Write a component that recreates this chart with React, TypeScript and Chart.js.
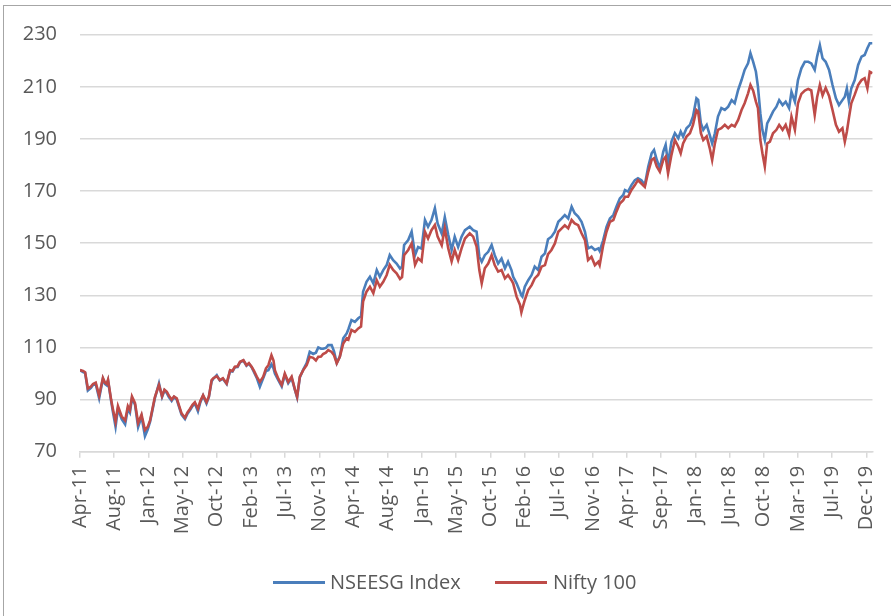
import React, { useEffect, useRef } from "react";
import { Chart, registerables } from "chart.js";

Chart.register(...registerables);

// X tick labels, one every 100 trading days starting Apr-11
const tickLabels = ["Apr-11","Aug-11","Jan-12","May-12","Oct-12","Feb-13","Jul-13","Nov-13","Apr-14","Aug-14","Jan-15","May-15","Oct-15","Feb-16","Jul-16","Nov-16","Apr-17","Sep-17","Jan-18","Jun-18","Oct-18","Mar-19","Jul-19","Dec-19"];

// trading-day index of each sampled reading
const tradingDay = [0,9,15,23,32,38,46,56,61,67,73,78,82,91,96,104,111,122,132,140,146,152,161,170,180,190,198,205,212,219,231,240,247,254,260,268,275,283,289,297,307,314,322,329,336,345,352,360,370,377,385,
390,400,409,418,429,439,446,453,461,468,478,487,494,502,509,517,526,536,544,551,560,566,570,580,590,599,609,619,629,635,643,653,663,672,682,690,697,705,711,719,726,736,743,751,760,770,780,
785,794,804,814,822,828,838,848,858,868,877,887,897,906,916,926,936,942,948,960,970,975,980,989,999,1009,1018,1028,1038,1046,1058,1067,1077,1087,1096,1106,1116,1126,1140,1150,
1160,1168,1175,1184,1194,1204,1213,1223,1233,1243,1252,1262,1267,1277,1287,1291,1294,1301,1311,1321,1330,1340,1350,1360,1369,1379,1389,1399,1409,1418,1428,1438,1447,1457,1467,1477,1486,1496,1506,1516,
1520,1530,1540,1550,1560,1569,1579,1589,1594,1603,1613,1623,1632,1642,1652,1662,1672,1679,1687,1696,1706,1713,1720,1730,1740,1750,1757,1764,1774,1784,1793,1803,1808,1816,1823,1833,1842,1849,1857,1866,1876,1886,1896,1906,1915,
1925,1935,1944,1954,1961,1969,1977,1983,1990,1996,2003,2010,2018,2027,2037,2045,2055,2064,2074,2081,2091,2100,2110,2120,2130,2139,2149,2156,2164,2172,2181,2191,2201,2211,2220,2230,2237,2243,2249,2256,2266,2276,2286,2295,2303,2310,2318];

const nseesgIndex = [101.3,100.5,100.2,93.5,94.5,95.6,96,90.5,94,98,96,95.5,97.3,89.5,85.5,79.6,86.5,82.5,80.5,86.5,85,90.5,88,79.5,83.5,76,78.5,81.5,86,90.5,96.2,91,93.5,92.5,91,89.5,91,90,87.5,84.2,82.5,84.5,86,87.5,88.5,85.5,89,91.5,88.5,91,97,
98,99.4,97.3,98,96,101,100.8,102.4,102.5,104.3,105,103,103.8,102.4,100.5,98.3,94.9,98.3,101,101.3,103.5,102,100,97.5,95,99.5,96.3,98.3,93.5,90.8,98.5,101.5,104,108.3,107.5,108,110,109.5,109.5,109.8,110.9,110.9,108.5,104,106.5,113.5,115.4,
117,120.5,119.8,121.2,122,131.4,135.2,137.1,134.6,139.7,137.1,139.7,141.6,145.5,143.5,142.2,140.3,141,149.3,151.2,154.4,150,145.4,148.5,147.9,158.9,156.3,158.9,163.4,157.6,153.7,160,153.2,147.4,152.5,148.6,152.5,155,156.3,155,
154.4,144.8,142.9,145.4,146.7,149.3,145.4,142.2,144.1,140.4,142.9,139.7,137.1,134.6,131.4,130,129.5,133.3,135.8,137.8,141,139.7,144.8,146.1,151.5,152.5,154.4,158.2,159.5,160.8,159.5,164,161.5,160.2,158.2,154.4,148,148.6,147.4,148,
147,151,156.3,159.5,160.8,164,167.2,168.5,170.4,169.8,172.3,174.2,174.9,174.2,172.3,179.3,184.5,185.8,182,178.7,185.1,187.7,180.6,189,192.2,190.3,192.8,190.9,194.1,195.4,198.6,205.6,205,196,193.5,195.4,191.5,188.3,192.2,198.6,201.8,201.1,202.4,204.9,203.7,
208.8,212.6,216.5,219,222.9,219.6,215.8,210,199.8,193.4,189.6,196,198,200.5,202.4,204.9,203,204.3,201.8,208.1,204.3,212.6,217.1,219.6,219.6,219,216.5,221.6,226,220.9,219.6,216.5,210.7,205.6,203,204.9,206.2,209.4,204.3,209.4,212.6,218.4,221.6,222.2,224.8,226.7,226.7];

const nifty100 = [101.3,101,100.5,94.2,95,96,96.5,91.5,94.5,98.3,96.5,96,97.6,90,86.5,81.5,87.5,83.5,82,87.5,86,91.2,88.6,81,84.2,78.3,79.5,82,86.5,91,95.6,91.3,93.8,93,91.5,90,91.2,90.5,88,84.7,83,85,86.5,88,89,86.5,89.5,91.7,89,91.2,97.5,
98.2,99,97.5,98.2,96.2,101.3,101,102.6,102.8,104.5,105.1,103.2,104,102.6,101,98.8,96.8,98.8,102,103.2,107,105,101.3,98,95.6,100,96.8,98.8,93.7,91.1,98.8,101.3,103.2,106.4,106,105,106.4,106.5,107.5,108,109,108.3,107,103.9,106.4,111.5,113.5,
113,116.7,116,117.3,118,127.6,131.4,133.3,130.8,135.8,133.3,135.2,137.8,141.7,139.7,138.4,136.3,137,145.4,147.4,149.9,146,141.7,144.2,143,154.4,151.8,155,157,152.5,149.2,155.7,148.1,143,147.4,143.5,148,151.8,153.8,152.5,
148.7,139.7,134.6,140.4,142.2,145.4,141.6,139.1,139.7,136.5,137.8,135.8,134.6,129.5,126.3,123.5,125,128.2,132,133.9,136.5,137.8,141,141.6,145.8,147.4,149.9,154.4,155.7,156.9,155.7,158.9,157.6,156.9,153.8,151.2,143.5,144.8,141.6,142.9,
141.6,149,154.4,158.2,158.9,162.1,165.2,166.5,167.8,167.8,170.4,172.3,174.2,172.9,171.6,177.4,182,182.6,179.4,177.4,182,183.2,176.8,183.9,189.6,187,184.5,188.3,190.9,192.2,195.4,201.1,200.5,192.2,189.6,191,186.4,181.9,188.3,193.5,194.1,195.4,194.1,195.4,194.8,
197.3,201.1,203.7,207.5,210.7,208.5,204.3,201.8,189.6,184.5,179.4,188.3,189,192.2,193.5,195.4,193.5,195.4,191.5,198.6,193.5,203.7,207.3,208.6,209.2,208.6,199.2,206,210.7,206.7,209.6,206.5,201.1,195.4,192.8,194.1,189,192.8,198,203.7,207,210.7,212.6,213.3,209.4,215.8,215.2];

const seriesNames = ["NSEESG Index", "Nifty 100"];
const seriesColors = ["#4A7EBB", "#BE4B48"];

const FONT = "'Open Sans', 'Liberation Sans', sans-serif";
const TEXT = "#595959";

export default function App() {
  const ref = useRef<HTMLCanvasElement | null>(null);

  useEffect(() => {
    if (!ref.current) return;
    const toPts = (vals: number[]) => vals.map((v, i) => ({ x: tradingDay[i], y: v }));
    const chart = new Chart(ref.current, {
      type: "line",
      data: {
        datasets: [
          { label: seriesNames[0], data: toPts(nseesgIndex), borderColor: seriesColors[0], backgroundColor: seriesColors[0], borderWidth: 2.6, pointRadius: 0, tension: 0, order: 2 },
          { label: seriesNames[1], data: toPts(nifty100), borderColor: seriesColors[1], backgroundColor: seriesColors[1], borderWidth: 2.6, pointRadius: 0, tension: 0, order: 1 },
        ],
      },
      options: {
        responsive: false,
        animation: false,
        layout: { padding: { left: 0, right: 18.5, top: 34.7, bottom: 64.3 } },
        plugins: { legend: { display: false }, tooltip: { enabled: false } },
        scales: {
          x: {
            type: "linear",
            min: 0,
            max: 2318,
            afterFit: (s: any) => { s.height = 100; s.paddingLeft = 0; s.paddingRight = 0; },
            ticks: {
              stepSize: 100,
              includeBounds: false,
              autoSkip: false,
              maxRotation: 90,
              minRotation: 90,
              padding: 8,
              color: TEXT,
              font: { family: FONT, size: 20 },
              callback: (v: any) => {
                const idx = Math.round(Number(v) / 100);
                if (Math.abs(Number(v) - idx * 100) > 0.01) return null;
                return tickLabels[idx] ?? null;
              },
            },
            grid: { display: true, drawOnChartArea: false, drawTicks: true, tickLength: 6, color: "#D9D9D9", lineWidth: 1.5 },
            border: { display: true, color: "#D9D9D9", width: 1.5 },
          },
          y: {
            min: 70,
            max: 230,
            afterFit: (s: any) => { s.width = 80; s.paddingTop = 0; s.paddingBottom = 0; },
            ticks: { stepSize: 20, padding: 23, color: TEXT, font: { family: FONT, size: 20 } },
            grid: { color: "#D9D9D9", lineWidth: 1.5, drawTicks: false },
            border: { display: false },
          },
        },
      },
    });
    return () => chart.destroy();
  }, []);

  const legendItem = (i: number, lineLeft: number, textLeft: number) => (
    <React.Fragment key={i}>
      <div style={{ position: "absolute", left: lineLeft, top: 580.5, width: 52, height: 3, background: seriesColors[i] }} />
      <div style={{ position: "absolute", left: textLeft, top: 568, fontFamily: FONT, fontSize: 20, lineHeight: "27px", color: TEXT, whiteSpace: "nowrap" }}>{seriesNames[i]}</div>
    </React.Fragment>
  );

  return (
    <div style={{ position: "fixed", left: 0, top: 0, width: 891, height: 616, overflow: "hidden", background: "#fff" }}>
      <div style={{ position: "absolute", left: 3, top: 5, width: 1000, height: 1000, border: "1.5px solid #A6A6A6", boxSizing: "border-box" }} />
      <canvas ref={ref} width={891} height={616} style={{ position: "absolute", left: 0, top: 0 }} />
      {legendItem(0, 273, 330)}
      {legendItem(1, 495, 553)}
    </div>
  );
}
